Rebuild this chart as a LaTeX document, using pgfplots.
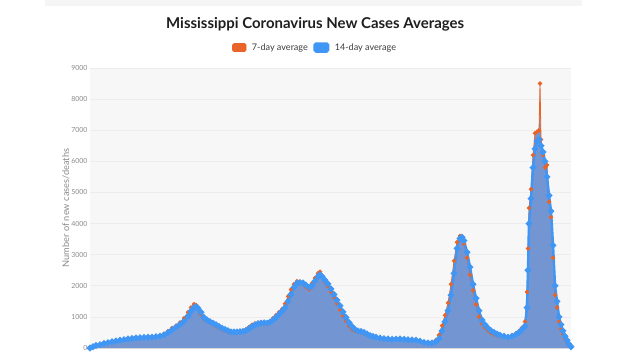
\documentclass[border=0pt]{standalone}
\usepackage{pgfplots}
\pgfplotsset{compat=1.18}
\usepackage{pgfplotstable}
\usepackage{fontspec}
\setmainfont{Lato}
\definecolor{orng}{HTML}{E86428}
\definecolor{blu}{HTML}{4096F5}
\definecolor{areafill}{HTML}{7396D2}
\definecolor{plotbg}{HTML}{F7F7F7}
\definecolor{gridc}{HTML}{ECECEC}
\definecolor{tickc}{HTML}{8A8A8A}

\pgfplotstableread{
x v
90 0
93 40
96 80
100 110
104 145
108 175
112 200
116 225
120 250
124 270
128 290
132 305
136 320
140 330
144 340
148 345
152 350
156 365
160 380
164 420
168 490
172 580
176 670
180 760
184 860
188 1020
191 1180
194 1300
196 1330
198 1280
201 1150
204 980
207 900
210 850
213 800
216 750
219 690
222 640
225 600
228 555
231 520
234 515
237 520
240 525
243 535
246 560
249 620
252 690
255 740
258 780
261 800
264 810
267 800
270 830
273 900
276 980
279 1080
282 1180
285 1300
288 1500
291 1720
294 1950
297 2080
300 2100
303 2090
306 2020
309 1950
312 2000
315 2150
318 2300
320 2360
322 2300
325 2180
328 2060
331 1900
334 1720
337 1540
340 1360
343 1160
346 980
349 820
352 690
355 600
358 550
361 530
364 500
367 450
370 400
373 370
376 350
380 320
384 300
388 290
392 280
396 285
400 290
404 280
408 265
412 260
416 255
420 220
424 180
428 160
432 160
436 200
439 300
442 550
445 850
448 1200
451 1700
454 2400
457 3200
460 3520
462 3560
464 3450
467 3080
470 2600
473 2050
476 1600
479 1200
482 900
485 750
488 640
491 560
494 500
497 450
500 410
504 380
508 350
512 380
516 440
519 500
522 600
525 700
527 1300
528 2500
529 4000
531 4800
533 5800
535 6400
537 6650
539 6700
541 6500
543 6300
545 6000
547 5500
549 4900
551 4400
553 3300
555 2000
557 1500
559 1000
561 750
563 550
565 380
567 250
569 120
571 40
}\fourteen

\pgfplotstableread{
x v
90 0
93 50
96 95
100 125
104 160
108 185
112 210
116 235
120 260
124 280
128 295
132 310
136 325
140 335
144 340
148 350
152 355
156 380
160 400
164 460
168 540
172 640
176 720
180 820
184 960
188 1150
191 1300
194 1410
196 1380
198 1250
201 1080
204 920
207 870
210 830
213 760
216 700
219 640
222 600
225 560
228 510
231 490
234 510
237 525
240 540
243 550
246 600
249 680
252 750
255 790
258 810
261 830
264 790
267 760
270 860
273 960
276 1050
279 1150
282 1250
285 1420
288 1660
291 1880
294 2050
297 2150
300 2130
303 2050
306 1950
309 1880
312 2080
315 2250
318 2400
320 2450
322 2320
325 2120
328 1980
331 1800
334 1620
337 1420
340 1220
343 1020
346 860
349 700
352 600
355 540
358 530
361 510
364 460
367 420
370 380
373 355
376 340
380 310
384 290
388 285
392 275
396 295
400 285
404 270
408 260
412 265
416 240
420 200
424 165
428 160
432 180
436 260
439 420
442 720
445 1050
448 1450
451 2050
454 2800
457 3400
460 3600
462 3550
464 3350
467 2900
470 2350
473 1850
476 1400
479 1000
482 780
485 650
488 560
491 480
494 440
497 400
500 380
504 360
508 330
512 400
516 470
519 540
522 650
525 850
527 1800
528 3200
529 4500
531 5100
533 6200
535 6900
537 6950
539 7000
540 8500
541 6700
543 6200
545 5800
547 5880
549 4700
551 4200
553 2900
555 1700
557 1300
559 850
561 600
563 450
565 300
567 180
569 80
571 30
}\seven

\begin{document}
\begin{tikzpicture}[x=1bp,y=1bp]
\useasboundingbox (0,0) rectangle (622,352);
\fill[color={rgb,255:red,245;green,245;blue,245}] (45,346) rectangle (582,352);
\node[rotate=90, font=\fontsize{9.3}{10}\selectfont, text=tickc] at (66,144) {Number of new cases/deaths};
\begin{axis}[
  at={(90bp,4bp)}, anchor=south west,
  width=481bp, height=280bp, scale only axis,
  xmin=90, xmax=571, ymin=0, ymax=9000,
  axis background/.style={fill=plotbg},
  axis line style={draw=none},
  axis x line*=bottom,
  xtick=\empty,
  ytick={0,1000,...,9000},
  ymajorgrids, grid style={gridc, line width=0.6pt},
  major tick length=0pt,
  yticklabel style={font=\fontsize{7}{8}\selectfont, text=tickc, xshift=1pt},
  /pgf/number format/assume math mode=true,
  scaled y ticks=false,
  yticklabel={\pgfmathprintnumber[fixed, 1000 sep={}]{\tick}},
  clip=false,
  title={\bfseries Mississippi Coronavirus New Cases Averages},
  title style={at={(axis description cs:0.468,1.164)}, anchor=center, yshift=-8bp, font=\fontsize{15}{17}\selectfont, text={rgb,255:red,30;green,30;blue,30}},
  legend style={at={(axis description cs:0.468,1.073)}, anchor=center, draw=none, fill=none, font=\fontsize{9.1}{10}\selectfont, text={rgb,255:red,60;green,60;blue,60}, column sep=3.5pt, inner sep=0pt},
  legend columns=2,
  legend cell align=left,
  legend image code/.code={\fill[#1, rounded corners=1.5pt] (0,-4pt) rectangle (13.5pt,4pt);},
]
\addplot[fill=areafill, draw=none, forget plot] table[x=x,y=v] {\seven} \closedcycle;
\addplot[fill=areafill, draw=none, forget plot] table[x=x,y=v] {\fourteen} \closedcycle;
\draw[color={rgb,255:red,215;green,215;blue,215}, line width=0.6pt] (axis cs:90,0) -- (axis cs:571,0);
\addplot[orng, line width=0.8pt, mark=*, mark size=1.8pt, mark options={draw=none, fill=orng}] table[x=x,y=v] {\seven};
\addlegendentry{7-day average}
\addplot[blu, line width=2.5pt, mark=*, mark size=1.8pt, mark options={draw=none, fill=blu}] table[x=x,y=v] {\fourteen};
\addlegendentry{14-day average}
\end{axis}
\end{tikzpicture}
\end{document}
